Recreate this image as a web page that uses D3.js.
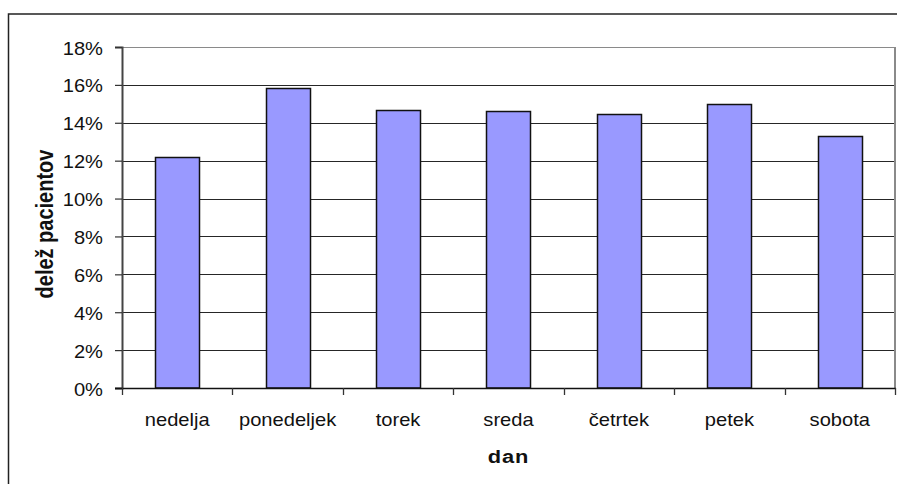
<!DOCTYPE html>
<html>
<head>
<meta charset="utf-8">
<script src="https://cdn.jsdelivr.net/npm/d3@7"></script>
<style>
  html, body { margin: 0; padding: 0; background: #fff; }
  svg { display: block; font-family: Arial, "Liberation Sans", sans-serif; }
</style>
</head>
<body>
<svg id="chart" width="897" height="484"></svg>
<script>
// Share of patients by day of the week
const days = ["nedelja", "ponedeljek", "torek", "sreda", "četrtek", "petek", "sobota"];
const shares = [12.17, 15.81, 14.70, 14.62, 14.46, 14.99, 13.28];
const yTicks = [0, 2, 4, 6, 8, 10, 12, 14, 16, 18];
const yTitle = "delež pacientov";
const xTitle = "dan";

const svg = d3.select("#chart");
const plot = { left: 122, right: 895, top: 47, bottom: 388 };
const wide = 1.15; // horizontal stretch applied to the text glyphs
const font = "Arial, 'Liberation Sans', sans-serif";

// outer chart frame (extends past the visible canvas on the right and bottom)
svg.append("rect")
  .attr("x", 8.5).attr("y", 14)
  .attr("width", 1000).attr("height", 1000)
  .attr("fill", "none").attr("stroke", "#222").attr("stroke-width", 1.5);

const xBand = d3.scaleBand().domain(days).range([plot.left, plot.right]);
const y = d3.scaleLinear().domain([0, 18]).range([plot.bottom, plot.top]);

// horizontal gridlines
svg.append("g")
  .selectAll("line")
  .data(yTicks.filter(t => t > 0))
  .join("line")
  .attr("x1", plot.left).attr("x2", plot.right)
  .attr("y1", d => Math.round(y(d)) + 0.5).attr("y2", d => Math.round(y(d)) + 0.5)
  .attr("stroke", d => d === 18 ? "#8a8a8a" : "#262626")
  .attr("stroke-width", 1.2);

// plot area right border
svg.append("line")
  .attr("x1", plot.right).attr("x2", plot.right)
  .attr("y1", plot.top).attr("y2", plot.bottom)
  .attr("stroke", "#8a8a8a").attr("stroke-width", 2);

// bars (gap width 150% of the bar width)
svg.append("g")
  .selectAll("rect")
  .data(days.map((d, i) => ({ day: d, v: shares[i] })))
  .join("rect")
  .attr("x", d => Math.round(xBand(d.day) + xBand.bandwidth() * 0.3) + 0.5)
  .attr("width", Math.round(xBand.bandwidth() * 0.4))
  .attr("y", d => Math.round(y(d.v)) + 0.5)
  .attr("height", d => y(0) - Math.round(y(d.v)) - 0.5)
  .attr("fill", "#9999FF")
  .attr("stroke", "#111")
  .attr("stroke-width", 1.5);

// y axis line and ticks
const yAxis = d3.axisLeft(y).tickValues(yTicks).tickFormat("").tickSize(7);
const gy = svg.append("g").attr("transform", `translate(${plot.left},0)`).call(yAxis);
gy.select(".domain").attr("stroke", "#444").attr("stroke-width", 2);
gy.selectAll(".tick line").attr("stroke", "#333").attr("stroke-width", 1.2);

// y tick labels
svg.append("g")
  .selectAll("text")
  .data(yTicks)
  .join("text")
  .attr("transform", d => `translate(103,${y(d) + 7.5}) scale(${wide},1)`)
  .attr("text-anchor", "end")
  .attr("font-size", 17.5)
  .attr("fill", "#111")
  .style("font-family", font)
  .text(d => d + "%");

// x axis: line plus ticks on category boundaries
const gx = svg.append("g");
gx.append("line")
  .attr("x1", plot.left - 7).attr("x2", plot.right + 1)
  .attr("y1", plot.bottom + 0.5).attr("y2", plot.bottom + 0.5)
  .attr("stroke", "#111").attr("stroke-width", 1.5);
gx.selectAll("line.tk")
  .data(days.map(d => xBand(d)).concat([plot.right]))
  .join("line")
  .attr("class", "tk")
  .attr("x1", d => Math.round(d) + 0.5).attr("x2", d => Math.round(d) + 0.5)
  .attr("y1", plot.bottom).attr("y2", plot.bottom + 7)
  .attr("stroke", "#333").attr("stroke-width", 1.3);

// category labels
svg.append("g")
  .selectAll("text")
  .data(days)
  .join("text")
  .attr("transform", d => `translate(${xBand(d) + xBand.bandwidth() / 2},426) scale(${wide},1)`)
  .attr("text-anchor", "middle")
  .attr("font-size", 17.5)
  .attr("fill", "#111")
  .style("font-family", font)
  .text(d => d);

// axis titles
svg.append("text")
  .attr("transform", `translate(53,224) scale(${wide},1) rotate(-90)`)
  .attr("text-anchor", "middle")
  .attr("font-size", 20)
  .attr("font-weight", "bold")
  .attr("fill", "#111")
  .style("font-family", font)
  .text(yTitle);

svg.append("text")
  .attr("transform", `translate(${(plot.left + plot.right) / 2},463) scale(${wide},1)`)
  .attr("text-anchor", "middle")
  .attr("font-size", 19)
  .attr("font-weight", "bold")
  .attr("letter-spacing", 0.8)
  .attr("fill", "#111")
  .style("font-family", font)
  .text(xTitle);
</script>
</body>
</html>
